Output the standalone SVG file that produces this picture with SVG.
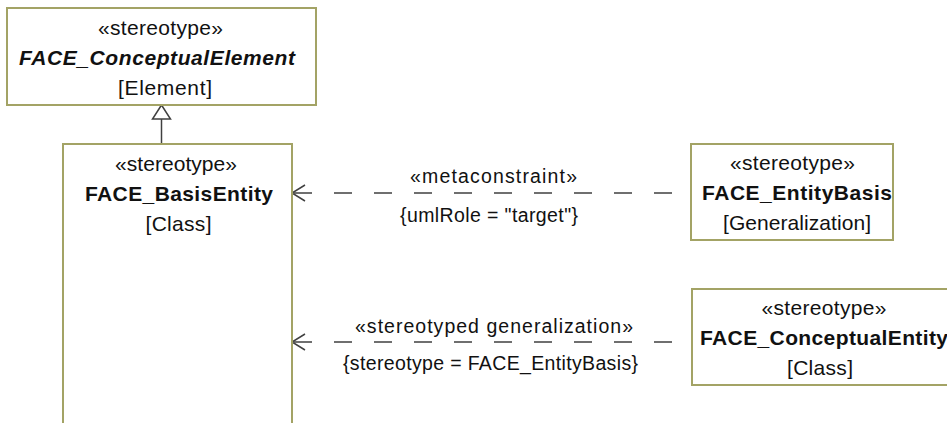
<svg xmlns="http://www.w3.org/2000/svg" width="947" height="423" viewBox="0 0 947 423">
<style>
.box{fill:#ffffff;stroke:#a3a365;stroke-width:2}
.t{font-family:"Liberation Sans",Arial,sans-serif;font-size:21px;fill:#111;text-anchor:middle}
.b{font-weight:bold}
.i{font-style:italic}
.lbl{font-family:"Liberation Sans",Arial,sans-serif;font-size:19.5px;fill:#111;text-anchor:middle}
.dash{fill:none;stroke:#404040;stroke-width:1.5;stroke-dasharray:18 22}
.head{fill:none;stroke:#404040;stroke-width:1.5}
.gen{fill:#ffffff;stroke:#404040;stroke-width:1.5}
</style>
<rect width="947" height="423" fill="#ffffff"/>
<g id="connectors">
  <line class="head" x1="161.5" y1="119" x2="161.5" y2="144"/>
  <path class="gen" d="M161.5,105 L170.5,119 L152.5,119 Z"/>
  <line class="dash" x1="672" y1="193" x2="292" y2="193"/>
  <path class="head" d="M305,185 L292,193 L305,201"/>
  <text class="lbl" x="493.5" y="183" textLength="167" lengthAdjust="spacing">«metaconstraint»</text>
  <text class="lbl" x="489" y="222" textLength="178" lengthAdjust="spacing">{umlRole = "target"}</text>
  <line class="dash" x1="672" y1="342" x2="292" y2="342"/>
  <path class="head" d="M305,334 L292,342 L305,350"/>
  <text class="lbl" x="494" y="333" textLength="278" lengthAdjust="spacing">«stereotyped generalization»</text>
  <text class="lbl" x="490.5" y="370" textLength="295" lengthAdjust="spacing">{stereotype = FACE_EntityBasis}</text>
</g>
<g id="FACE_ConceptualElement">
  <rect class="box" x="7" y="8" width="309" height="97"/>
  <text class="t" x="160.5" y="35" textLength="125" lengthAdjust="spacing">«stereotype»</text>
  <text class="t b i" x="157" y="65" textLength="276" lengthAdjust="spacing">FACE_ConceptualElement</text>
  <text class="t" x="165" y="95" textLength="94" lengthAdjust="spacing">[Element]</text>
</g>
<g id="FACE_BasisEntity">
  <rect class="box" x="63" y="144" width="229" height="300"/>
  <text class="t" x="176" y="171" textLength="122" lengthAdjust="spacing">«stereotype»</text>
  <text class="t b" x="179" y="201" textLength="188" lengthAdjust="spacing">FACE_BasisEntity</text>
  <text class="t" x="178.5" y="231" textLength="66" lengthAdjust="spacing">[Class]</text>
</g>
<g id="FACE_EntityBasis">
  <rect class="box" x="691" y="144" width="202" height="96"/>
  <text class="t" x="792.5" y="170" textLength="125" lengthAdjust="spacing">«stereotype»</text>
  <text class="t b" x="797" y="200" textLength="190" lengthAdjust="spacing">FACE_EntityBasis</text>
  <text class="t" x="797" y="230" textLength="148" lengthAdjust="spacing">[Generalization]</text>
</g>
<g id="FACE_ConceptualEntity">
  <rect class="box" x="692" y="289" width="264" height="96"/>
  <text class="t" x="824" y="315" textLength="125" lengthAdjust="spacing">«stereotype»</text>
  <text class="t b" x="824" y="345" textLength="248" lengthAdjust="spacing">FACE_ConceptualEntity</text>
  <text class="t" x="820" y="375" textLength="66" lengthAdjust="spacing">[Class]</text>
</g>
</svg>
